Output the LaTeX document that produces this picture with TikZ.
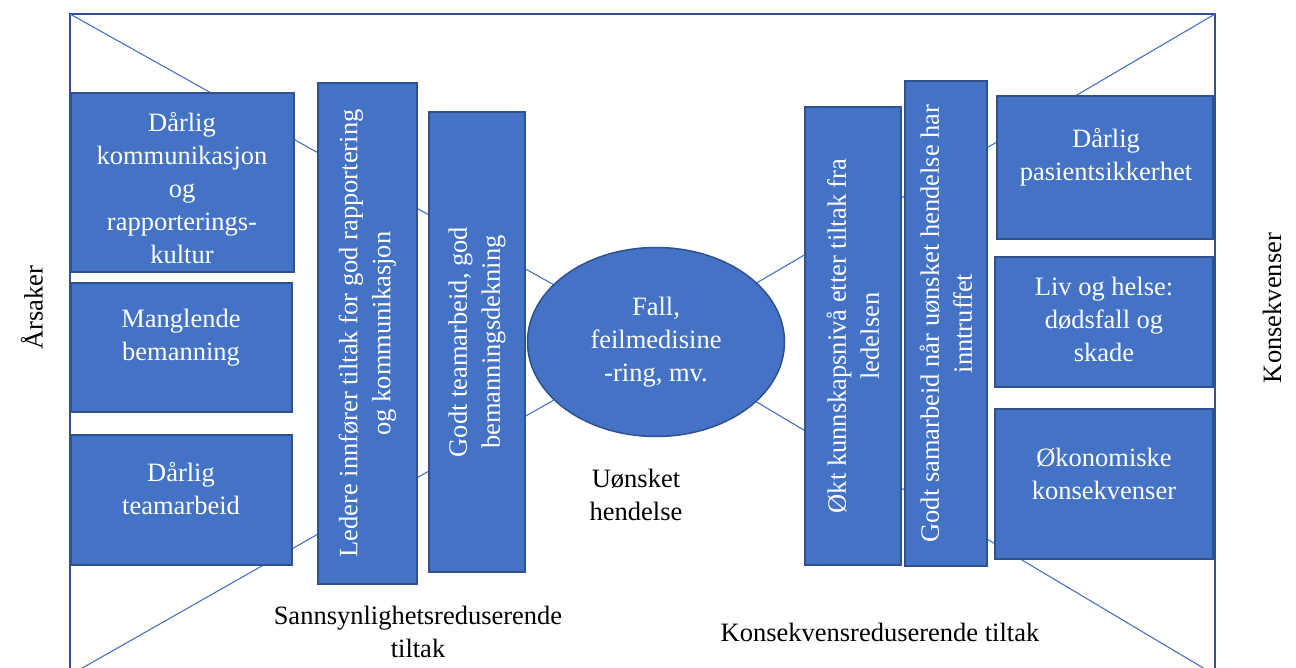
\documentclass[tikz,border=0pt]{standalone}
\usepackage{fontspec}
\setmainfont{Liberation Serif}
\usetikzlibrary{shapes.geometric}
\definecolor{boxblue}{HTML}{4472C4}
\definecolor{boxline}{HTML}{2F528F}

\begin{document}
\begin{tikzpicture}[x=1pt, y=-1pt,
    every node/.style={font=\fontsize{26.5}{33}\selectfont, align=center},
    bluebox/.style={draw=boxline, fill=boxblue, line width=2.2pt, inner sep=0pt},
    colbox/.style={bluebox, rotate=90, text=white},
    boxtext/.style={text=white},
    bowline/.style={boxblue, line width=1.1pt}]
    \path[use as bounding box, clip] (0,0) rectangle (1296,668);

    % frame and the bow-tie lines
    \draw[boxline, line width=2.2pt] (70,14) rectangle (1215,675);
    \coordinate (tl) at (70,14);  \coordinate (tr) at (1215,14);
    \coordinate (bl) at (70,675); \coordinate (br) at (1215,675);
    \path (656,342) coordinate (mid);
    \draw[bowline] (tl) -- (mid); \draw[bowline] (tr) -- (mid);
    \draw[bowline] (bl) -- (mid); \draw[bowline] (br) -- (mid);

    % causes
    \node[bluebox, minimum width=223pt, minimum height=179pt] (kommbox) at (182.5,182.5) {};
    \node[boxtext] (komm) at (182,188) {Dårlig\\kommunikasjon\\og\\rapporterings-\\kultur};
    \node[bluebox, minimum width=221pt, minimum height=129pt] (bemanbox) at (181.5,347.5) {};
    \node[boxtext] (beman) at (181,338) {Manglende\\bemanning};
    \node[bluebox, minimum width=221pt, minimum height=130pt] (teambox) at (181.5,500) {};
    \node[boxtext] (team) at (181,489) {Dårlig\\teamarbeid};

    % probability reducing measures
    \node[colbox, minimum width=501pt, minimum height=99pt] (ledere) at (367.5,333.5)
      {Ledere innfører tiltak for god rapportering\\og kommunikasjon};
    \node[colbox, minimum width=460pt, minimum height=96pt] (godtteam) at (477,342)
      {Godt teamarbeid, god\\bemanningsdekning};

    % the event
    \node[ellipse, draw=boxline, fill=boxblue, line width=1.5pt, inner sep=0pt,
      minimum width=257pt, minimum height=189pt, text=white] (fall) at (mid)
      {Fall,\\feilmedisine\\-ring, mv.};

    % consequence reducing measures
    \node[colbox, minimum width=458pt, minimum height=96pt] (kunnskap) at (853,336)
      {Økt kunnskapsnivå etter tiltak fra\\ledelsen};
    \node[colbox, minimum width=485pt, minimum height=82pt] (samarbeid) at (946,323.5)
      {Godt samarbeid når uønsket hendelse har\\inntruffet};

    % consequences
    \node[bluebox, minimum width=216pt, minimum height=143pt] (sikkerbox) at (1105,167.5) {};
    \node[boxtext] (sikker) at (1106,157) {Dårlig\\pasientsikkerhet};
    \node[bluebox, minimum width=218pt, minimum height=130pt] (livbox) at (1104,322) {};
    \node[boxtext] (liv) at (1104,319) {Liv og helse:\\dødsfall og\\skade};
    \node[bluebox, minimum width=218pt, minimum height=150pt] (okobox) at (1104,484) {};
    \node[boxtext] (oko) at (1104,474) {Økonomiske\\konsekvenser};

    % labels
    \node[rotate=90] (arsaker) at (32,308) {Årsaker};
    \node[rotate=90] (konsekv) at (1272,308) {Konsekvenser};
    \node (uonsket) at (636,495) {Uønsket\\hendelse};
    \node (sannsyn) at (418,632) {Sannsynlighetsreduserende\\tiltak};
    \node (konsred) at (880,632) {Konsekvensreduserende tiltak};
\end{tikzpicture}
\end{document}
